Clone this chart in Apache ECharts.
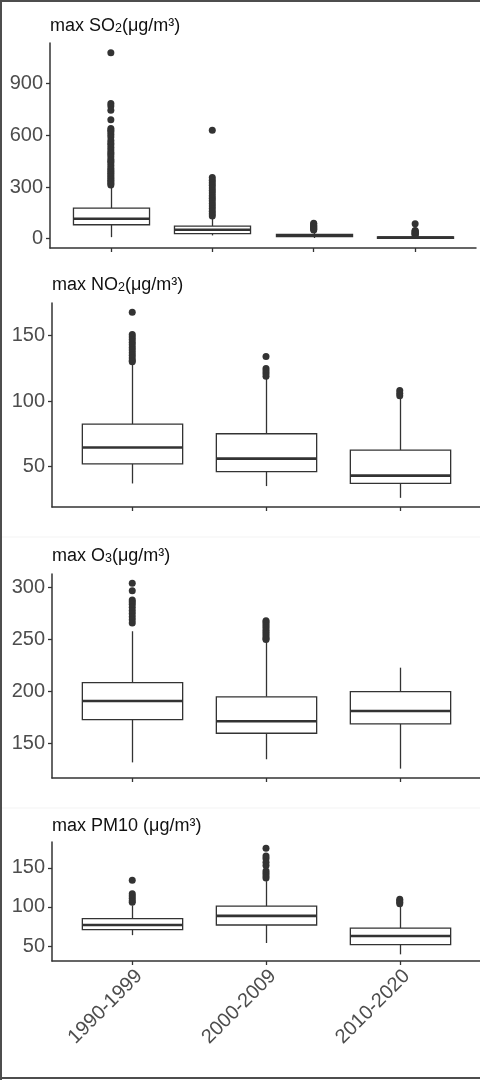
<!DOCTYPE html>
<html>
<head>
<meta charset="utf-8">
<script src="https://cdn.jsdelivr.net/npm/echarts@6/dist/echarts.min.js"></script>
<style>
  html, body { margin: 0; padding: 0; background: #fff; }
  #main { width: 480px; height: 1080px; }
</style>
</head>
<body>
<div id="main"></div>
<script>
// decades on the x axis (SO2 panel has a 4th, unlabelled group)
var periods = ['1990-1999', '2000-2009', '2010-2020'];

// box stats: [lower whisker, Q1, median, Q3, upper whisker]
var so2Box = [[9, 81, 116, 177, 309], [19, 29, 52, 73, 125], [4, 12, 17, 25, 45], [0, 2, 6, 10, 19]];
var so2Out = [
    [1080, 785, 770, 745, 690, 640, 630, 620, 605, 590, 570, 555, 545, 530, 515, 500, 490, 475, 460, 450, 440, 425, 410, 400, 390, 380, 370, 360, 350, 340, 330, 320, 312],
    [630, 355, 340, 325, 310, 295, 280, 265, 250, 235, 220, 205, 190, 175, 160, 145, 132],
    [90, 85, 78, 72, 66, 60, 55, 50],
    [87, 48, 44, 40, 36, 32, 28, 24, 21]
];
var no2Box = [[37, 52, 64.5, 82.3, 128], [35, 46, 56, 75, 117], [26, 37, 43, 62.5, 102]];
var no2Out = [
    [168, 151, 149, 147, 145, 143, 141, 139, 137, 135, 133, 131, 130],
    [134, 125, 123, 121, 119],
    [108, 106, 104]
];
var o3Box = [[132, 173, 191, 208.6, 258], [135, 160, 171.5, 195, 248], [126, 169, 181.4, 200, 223]];
var o3Out = [
    [304, 297, 288, 286, 284, 281, 278, 275, 272, 269, 266],
    [268, 267, 265, 263, 261, 259, 257, 255, 253, 251, 250],
    []
];
var pm10Box = [[64, 71, 77, 85, 102], [54, 77, 88.6, 101, 133], [39.5, 52, 63, 73, 101]];
var pm10Out = [
    [134, 117, 114, 111, 108, 106],
    [175, 165, 162, 157, 153, 146, 143, 140, 137],
    [110, 108, 106, 104]
];

// y ticks per panel
var so2Ticks = [0, 300, 600, 900];
var no2Ticks = [50, 100, 150];
var o3Ticks = [150, 200, 250, 300];
var pm10Ticks = [50, 100, 150];

var FONT = 'Liberation Sans, Arial, sans-serif';
var INK = '#333333';

var myChart = echarts.init(document.getElementById('main'));

var panels = [
    { title: 'max SO{s|2}(μg/m³)', box: so2Box, out: so2Out, ticks: so2Ticks, ymin: -54, ymax: 1136,
      grid: { left: 50, top: 43, width: 426, height: 205 }, titleTop: 17, labels: false },
    { title: 'max NO{s|2}(μg/m³)', box: no2Box, out: no2Out, ticks: no2Ticks, ymin: 19, ymax: 175,
      grid: { left: 52, top: 303, width: 428, height: 204 }, titleTop: 276, labels: false },
    { title: 'max O{s|3}(μg/m³)', box: o3Box, out: o3Out, ticks: o3Ticks, ymin: 117, ymax: 313,
      grid: { left: 52, top: 574, width: 428, height: 204 }, titleTop: 547, labels: false },
    { title: 'max PM10 (μg/m³)', box: pm10Box, out: pm10Out, ticks: pm10Ticks, ymin: 31, ymax: 183,
      grid: { left: 52, top: 842, width: 428, height: 119 }, titleTop: 817, labels: true }
];

function renderBox(params, api) {
    var x = api.value(0);
    var pMin = api.coord([x, api.value(1)]);
    var pQ1 = api.coord([x, api.value(2)]);
    var pMed = api.coord([x, api.value(3)]);
    var pQ3 = api.coord([x, api.value(4)]);
    var pMax = api.coord([x, api.value(5)]);
    var half = api.size([0.75, 0])[0] / 2;
    var cx = Math.round(pMed[0]) + 0.5;
    var thin = { stroke: INK, lineWidth: 1.3 };
    return {
        type: 'group',
        children: [
            { type: 'line', shape: { x1: cx, y1: pMax[1], x2: cx, y2: pQ3[1] }, style: thin },
            { type: 'line', shape: { x1: cx, y1: pQ1[1], x2: cx, y2: pMin[1] }, style: thin },
            { type: 'rect', shape: { x: cx - half, y: pQ3[1], width: half * 2, height: pQ1[1] - pQ3[1] },
              style: { fill: '#fff', stroke: INK, lineWidth: 1.3 } },
            { type: 'line', shape: { x1: cx - half, y1: pMed[1], x2: cx + half, y2: pMed[1] },
              style: { stroke: INK, lineWidth: 2.6 } }
        ]
    };
}

var option = {
    animation: false,
    backgroundColor: '#fff',
    title: [],
    grid: [],
    xAxis: [],
    yAxis: [],
    series: [],
    graphic: [
        { type: 'line', shape: { x1: 0, y1: 1, x2: 480, y2: 1 }, style: { stroke: '#4d4d4d', lineWidth: 2 } },
        { type: 'line', shape: { x1: 1, y1: 0, x2: 1, y2: 1080 }, style: { stroke: '#4d4d4d', lineWidth: 2 } },
        { type: 'line', shape: { x1: 0, y1: 1078, x2: 480, y2: 1078 }, style: { stroke: '#4d4d4d', lineWidth: 2 } },
        { type: 'line', shape: { x1: 2, y1: 537, x2: 480, y2: 537 }, style: { stroke: '#f3f3f3', lineWidth: 1 } },
        { type: 'line', shape: { x1: 2, y1: 808, x2: 480, y2: 808 }, style: { stroke: '#f3f3f3', lineWidth: 1 } }
    ]
};

panels.forEach(function (p, i) {
    var n = p.box.length;
    var cats = [];
    for (var k = 1; k <= n; k++) cats.push(k);

    option.title.push({
        text: p.title,
        left: p.grid.left,
        top: p.titleTop,
        padding: 0,
        textStyle: {
            fontFamily: FONT, fontSize: 18, fontWeight: 'normal', color: '#111',
            rich: { s: { fontFamily: FONT, fontSize: 12.5, color: '#111', verticalAlign: 'bottom', lineHeight: 8 } }
        }
    });
    option.grid.push(p.grid);
    option.xAxis.push({
        type: 'value',
        gridIndex: i,
        min: 0.4,
        max: n + 0.6,
        splitLine: { show: false },
        axisLine: { onZero: false, lineStyle: { color: INK, width: 1.5 } },
        axisTick: { show: true, length: 4, customValues: cats, lineStyle: { color: INK, width: 1.3 } },
        axisLabel: {
            show: p.labels,
            customValues: cats,
            rotate: 45,
            margin: 5,
            verticalAlign: 'top',
            fontFamily: FONT,
            fontSize: 20,
            color: '#4d4d4d',
            formatter: function (v) { return periods[Math.round(v) - 1] || ''; }
        }
    });
    option.yAxis.push({
        type: 'value',
        gridIndex: i,
        min: p.ymin,
        max: p.ymax,
        splitLine: { show: false },
        axisLine: { show: true, onZero: false, lineStyle: { color: INK, width: 1.5 } },
        axisTick: { show: true, length: 4, customValues: p.ticks, lineStyle: { color: INK, width: 1.3 } },
        axisLabel: {
            customValues: p.ticks,
            margin: 7,
            fontFamily: FONT,
            fontSize: 20,
            color: '#4d4d4d'
        }
    });

    var boxData = p.box.map(function (b, j) { return [j + 1].concat(b); });
    option.series.push({
        type: 'custom',
        xAxisIndex: i,
        yAxisIndex: i,
        renderItem: renderBox,
        encode: { x: 0, y: [1, 2, 3, 4, 5] },
        data: boxData,
        z: 2
    });

    var outData = [];
    p.out.forEach(function (vals, j) {
        vals.forEach(function (v) { outData.push([j + 1, v]); });
    });
    option.series.push({
        type: 'scatter',
        xAxisIndex: i,
        yAxisIndex: i,
        symbol: 'circle',
        symbolSize: 7,
        itemStyle: { color: INK, opacity: 1 },
        data: outData,
        z: 3
    });
});

myChart.setOption(option);
</script>
</body>
</html>
